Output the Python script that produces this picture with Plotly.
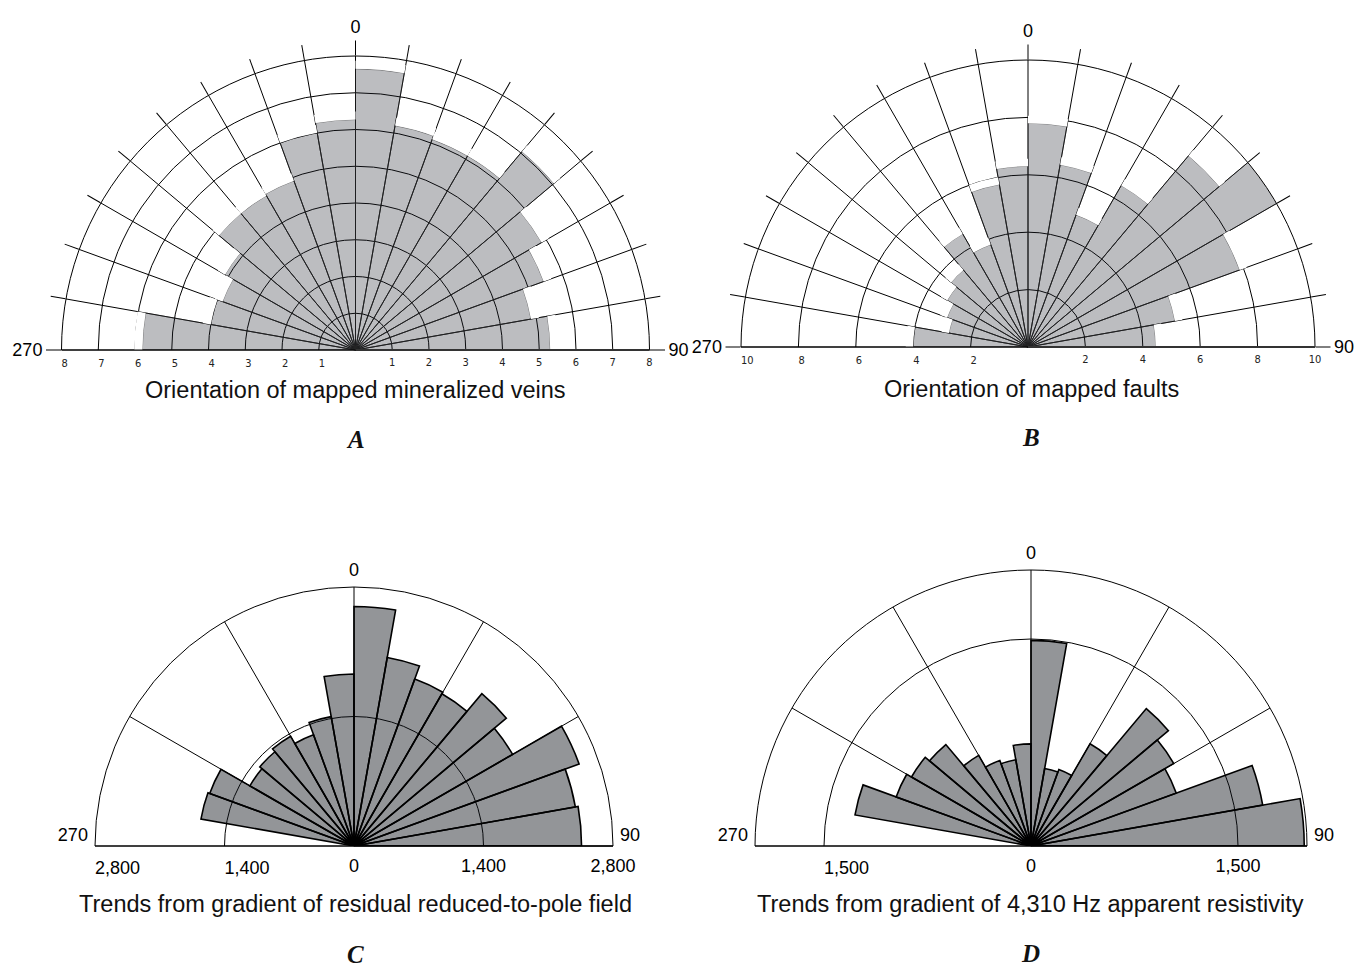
import plotly.graph_objects as go

W, H = 1357, 970

# 10-degree bins, from 270 clockwise through 0 to 90 (bin centres, compass degrees)
bin_theta = [275, 285, 295, 305, 315, 325, 335, 345, 355,
             5, 15, 25, 35, 45, 55, 65, 75, 85]

# A - mineralized veins (count)
veins = [5.8, 4.0, 3.85, 4.1, 4.85, 4.85, 4.9, 6.0, 6.27,
         7.65, 6.2, 6.1, 6.1, 7.05, 5.85, 5.45, 4.85, 5.3]
# B - faults (count)
faults = [4.0, 2.8, 3.0, 3.25, 3.5, 4.55, 3.8, 5.75, 6.3,
          7.8, 6.45, 4.9, 6.5, 8.7, 10.15, 7.85, 5.2, 4.45]
# C - residual reduced-to-pole gradient trends
rtp = [0, 1680, 1660, 1300, 1330, 1370, 1280, 1420, 1860,
       2590, 2070, 1920, 1900, 2150, 1980, 2590, 2430, 2460]
# D - 4,310 Hz apparent resistivity gradient trends
resist = [0, 1295, 1040, 1000, 960, 758, 660, 635, 740,
          1490, 570, 590, 855, 1300, 1195, 1120, 1705, 1980]

titles = ["Orientation of mapped mineralized veins",
          "Orientation of mapped faults",
          "Trends from gradient of residual reduced-to-pole field",
          "Trends from gradient of 4,310 Hz apparent resistivity"]
letters = ["A", "B", "C", "D"]

ang10 = [270, 280, 290, 300, 310, 320, 330, 340, 350, 0, 10, 20, 30, 40, 50, 60, 70, 80, 90]
ang30 = [270, 300, 330, 0, 30, 60, 90]

SANS = "Liberation Sans, Arial, sans-serif"
NARROW = "Liberation Sans Narrow, DejaVu Sans Condensed, Arial Narrow, sans-serif"
SERIF = "Liberation Serif, Times New Roman, serif"
NBSP = "\u00a0"


def signed(a):
    # compass angle -> signed angle (-180..180] so the upper half-plane is contiguous
    return a - 360 if a > 180 else a


def dom(cx, cy, R):
    return dict(x=[(cx - R) / W, (cx + R) / W], y=[1 - cy / H, 1 - (cy - R) / H])


def angtext(vals, raised=False):
    out = []
    for v in vals:
        if v in (0, 90, 270):
            out.append(str(v) + ("<br>" + NBSP if raised and v != 0 else ""))
        else:
            out.append("")
    return out


theta_s = [signed(a) for a in bin_theta]

fig = go.Figure()

panels = [
    ("polar", "polar2", veins, 355.5, 350, 294, 8, "light"),
    ("polar3", "polar4", faults, 1028, 347, 287, 10, "light"),
    ("polar5", "polar6", rtp, 354, 846, 259, 2800, "dark"),
    ("polar7", "polar8", resist, 1031, 846, 276, 2000, "dark"),
]

layout = dict(width=W, height=H, margin=dict(l=0, r=0, t=0, b=0),
              paper_bgcolor="white", plot_bgcolor="white", showlegend=False,
              template="none")

for main, left, vals, cx, cy, R, rmax, style in panels:
    d = dom(cx, cy, R)
    if style == "light":
        fig.add_trace(go.Barpolar(
            r=vals, theta=theta_s, width=10, subplot=main,
            marker=dict(color="rgba(32,38,45,0.30)",
                        line=dict(color="rgba(40,40,40,0.6)", width=0.8)),
            hoverinfo="skip"))
        hub = 0.22 if rmax == 8 else 0.26
        fig.add_trace(go.Barpolar(
            r=[hub] * len(theta_s), theta=theta_s, width=10, subplot=main,
            marker=dict(color="white", line=dict(width=0)), hoverinfo="skip"))
        step = 1 if rmax == 8 else 2
        rt = list(range(step, rmax + 1, step))
        main_r = dict(range=[0, rmax], angle=0, side="clockwise",
                      tickmode="array", tickvals=rt, ticktext=[str(v) for v in rt],
                      ticks="outside", ticklen=2, tickcolor="rgba(0,0,0,0)",
                      showgrid=True, gridcolor="black", gridwidth=1,
                      showline=True, linecolor="#333", linewidth=2,
                      tickfont=dict(family=NARROW, size=11, color="#222"))
        left_r = dict(range=[0, rmax], angle=180, side="counterclockwise",
                      tickangle=180,
                      tickmode="array", tickvals=rt, ticktext=[str(v) for v in rt],
                      ticks="outside", ticklen=1, tickcolor="rgba(0,0,0,0)",
                      showgrid=False, showline=False,
                      tickfont=dict(family=NARROW, size=11, color="#222"))
        main_a = dict(direction="clockwise", rotation=90, tickmode="array",
                      tickvals=[signed(a) for a in ang10], ticktext=angtext(ang10),
                      ticks="outside", ticklen=15, tickcolor="black", tickwidth=1,
                      showgrid=True, gridcolor="black", gridwidth=1,
                      showline=True, linecolor="black", linewidth=1,
                      tickfont=dict(family=SANS, size=18, color="black"))
    else:
        # translucent dark fill over white gives mid grey, while grid lines show through
        fig.add_trace(go.Barpolar(
            r=vals, theta=theta_s, width=10, subplot=main,
            marker=dict(color="rgba(15,19,26,0.45)", line=dict(color="black", width=1.6)),
            hoverinfo="skip"))
        if rmax == 2800:
            rt = [0, 1400, 2800]
            lt = [1400, 2800]
        else:
            rt = [0, 1500, 2000]
            lt = [1500, 2000]
        fmt = lambda v: ("" if v == 2000 else f"{v:,}")
        main_r = dict(range=[0, rmax], angle=0, side="clockwise",
                      tickmode="array", tickvals=rt, ticktext=[fmt(v) for v in rt],
                      ticks="outside", ticklen=4, tickcolor="rgba(0,0,0,0)",
                      showgrid=True, gridcolor="black", gridwidth=0.8,
                      showline=True, linecolor="black", linewidth=1,
                      tickfont=dict(family=SANS, size=18, color="black"))
        left_r = dict(range=[0, rmax], angle=180, side="counterclockwise",
                      tickangle=180,
                      tickmode="array", tickvals=lt, ticktext=[fmt(v) for v in lt],
                      ticks="outside", ticklen=2, tickcolor="rgba(0,0,0,0)",
                      showgrid=False, showline=False,
                      tickfont=dict(family=SANS, size=18, color="black"))
        main_a = dict(direction="clockwise", rotation=90, tickmode="array",
                      tickvals=[signed(a) for a in ang30], ticktext=angtext(ang30, True),
                      ticks="outside", ticklen=3, tickcolor="rgba(0,0,0,0)",
                      showgrid=True, gridcolor="black", gridwidth=0.8,
                      showline=True, linecolor="black", linewidth=1,
                      tickfont=dict(family=SANS, size=18, color="black"))

    fig.add_trace(go.Scatterpolar(r=[0], theta=[0], mode="markers", subplot=left,
                                  marker=dict(opacity=0), hoverinfo="skip"))
    layout[main] = dict(domain=d, sector=[0, 180], bgcolor="white",
                        radialaxis=main_r, angularaxis=main_a)
    layout[left] = dict(domain=d, sector=[0, 180], bgcolor="rgba(0,0,0,0)",
                        radialaxis=left_r,
                        angularaxis=dict(visible=False, direction="clockwise", rotation=90))

fig.update_layout(**layout)

ann = []
title_pos = [(355, 390), (1031, 389), (355, 904), (1030, 904)]
letter_pos = [(355, 440), (1031, 438), (355, 954), (1030, 953)]
for t, (x, y) in zip(titles, title_pos):
    ann.append(dict(text=t, x=x / W, y=1 - y / H, xref="paper", yref="paper",
                    showarrow=False, xanchor="center", yanchor="middle",
                    font=dict(family=SANS, size=23.5, color="#111")))
for t, (x, y) in zip(letters, letter_pos):
    ann.append(dict(text="<b><i>" + t + "</i></b>", x=x / W, y=1 - y / H,
                    xref="paper", yref="paper", showarrow=False,
                    xanchor="center", yanchor="middle",
                    font=dict(family=SERIF, size=25, color="#111")))
fig.update_layout(annotations=ann)

fig.write_html("out.html")
